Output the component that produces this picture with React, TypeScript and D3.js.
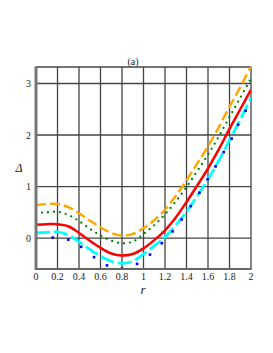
import React, { useEffect, useRef } from 'react';
import * as d3 from 'd3';

// curves sampled at r = 0, 0.1, ... 2.0
const rGrid = [0, 0.1, 0.2, 0.3, 0.4, 0.5, 0.6, 0.7, 0.8, 0.9, 1.0, 1.1, 1.2, 1.3, 1.4, 1.5, 1.6, 1.7, 1.8, 1.9, 2.0];
const redVals = [0.26, 0.27, 0.27, 0.23, 0.1, -0.05, -0.19, -0.3, -0.34, -0.31, -0.2, -0.04, 0.15, 0.4, 0.7, 1.02, 1.35, 1.72, 2.12, 2.5, 2.88];
const orangeVals = [0.64, 0.66, 0.66, 0.6, 0.48, 0.34, 0.21, 0.1, 0.05, 0.08, 0.19, 0.35, 0.55, 0.82, 1.12, 1.45, 1.78, 2.15, 2.55, 2.93, 3.34];
const greenVals = [0.49, 0.5, 0.51, 0.45, 0.33, 0.18, 0.05, -0.05, -0.1, -0.07, 0.08, 0.25, 0.46, 0.71, 0.99, 1.3, 1.62, 1.97, 2.35, 2.72, 3.1];
const cyanVals = [0.1, 0.11, 0.12, 0.06, -0.07, -0.22, -0.35, -0.45, -0.49, -0.45, -0.31, -0.15, 0.02, 0.25, 0.51, 0.82, 1.14, 1.5, 1.9, 2.3, 2.72];

// blue markers
const blueR = [0, 0.155, 0.3, 0.42, 0.54, 0.66, 0.8, 0.94, 1.06, 1.17, 1.27, 1.355, 1.44, 1.52, 1.597, 1.67, 1.746, 1.82, 1.88, 1.95];
const blueVals = [0.0, 0.01, -0.03, -0.17, -0.37, -0.53, -0.59, -0.5, -0.32, -0.1, 0.13, 0.36, 0.62, 0.88, 1.14, 1.39, 1.67, 1.93, 2.2, 2.47];

const xTicks = [0, 0.2, 0.4, 0.6, 0.8, 1, 1.2, 1.4, 1.6, 1.8, 2];
const yTicks = [0, 1, 2, 3];

export default function App() {
  const ref = useRef<SVGSVGElement>(null);

  useEffect(() => {
    const svg = d3.select(ref.current);
    svg.selectAll('*').remove();

    const x = d3.scaleLinear().domain([0, 2]).range([36, 251]);
    const y = d3.scaleLinear().domain([-0.6, 3.32]).range([269, 67]);
    const font = '"Liberation Serif", "DejaVu Serif", serif';

    svg.append('defs').append('clipPath').attr('id', 'plotClip')
      .append('rect')
      .attr('x', x(0)).attr('y', y(3.32))
      .attr('width', x(2) - x(0)).attr('height', y(-0.6) - y(3.32));

    // grid
    const grid = svg.append('g');
    xTicks.forEach(t => {
      grid.append('line')
        .attr('x1', x(t)).attr('x2', x(t))
        .attr('y1', y(3.32)).attr('y2', y(-0.6))
        .attr('stroke', '#444').attr('stroke-width', 1.3);
    });
    yTicks.forEach(t => {
      grid.append('line')
        .attr('x1', x(0)).attr('x2', x(2))
        .attr('y1', y(t)).attr('y2', y(t))
        .attr('stroke', '#444').attr('stroke-width', 1.3);
    });
    // top border
    grid.append('line')
      .attr('x1', x(0)).attr('x2', x(2))
      .attr('y1', y(3.32)).attr('y2', y(3.32))
      .attr('stroke', '#444').attr('stroke-width', 1.3);

    const plot = svg.append('g').attr('clip-path', 'url(#plotClip)');
    const line = d3.line<number>()
      .x((_, i) => x(rGrid[i]))
      .y(d => y(d))
      .curve(d3.curveCatmullRom);

    plot.append('path').datum(orangeVals).attr('d', line)
      .attr('fill', 'none').attr('stroke', '#ffa500').attr('stroke-width', 2.4)
      .attr('stroke-dasharray', '10 4');
    plot.append('path').datum(greenVals).attr('d', line)
      .attr('fill', 'none').attr('stroke', '#008000').attr('stroke-width', 2.3)
      .attr('stroke-linecap', 'round').attr('stroke-dasharray', '0 6');
    plot.append('path').datum(redVals).attr('d', line)
      .attr('fill', 'none').attr('stroke', '#ff0000').attr('stroke-width', 2.5);
    plot.append('path').datum(cyanVals).attr('d', line)
      .attr('fill', 'none').attr('stroke', '#00ffff').attr('stroke-width', 2.8)
      .attr('stroke-dasharray', '14 4');

    blueR.forEach((r, i) => {
      plot.append('rect')
        .attr('x', x(r) - 1.3).attr('y', y(blueVals[i]) - 1.3)
        .attr('width', 2.6).attr('height', 2.6)
        .attr('fill', '#0000ff');
    });

    // left and bottom frame
    svg.append('line')
      .attr('x1', x(0)).attr('x2', x(0))
      .attr('y1', y(3.32) - 0.5).attr('y2', y(-0.6) + 1)
      .attr('stroke', '#777').attr('stroke-width', 3);
    svg.append('line')
      .attr('x1', x(0)).attr('x2', x(2) + 0.6)
      .attr('y1', y(-0.6)).attr('y2', y(-0.6))
      .attr('stroke', '#666').attr('stroke-width', 2.2);

    // tick labels
    xTicks.forEach(t => {
      svg.append('text')
        .attr('x', x(t)).attr('y', 280)
        .attr('text-anchor', 'middle')
        .attr('font-family', font).attr('font-size', 10)
        .attr('fill', '#222')
        .text(String(t));
    });
    yTicks.forEach(t => {
      svg.append('text')
        .attr('x', 31).attr('y', y(t) + 3.5)
        .attr('text-anchor', 'end')
        .attr('font-family', font).attr('font-size', 10)
        .attr('fill', '#222')
        .text(String(t));
    });

    svg.append('text')
      .attr('x', 19).attr('y', 172)
      .attr('text-anchor', 'middle')
      .attr('font-family', font).attr('font-size', 12).attr('font-style', 'italic')
      .attr('fill', '#222')
      .text('Δ');
    svg.append('text')
      .attr('x', 143).attr('y', 294)
      .attr('text-anchor', 'middle')
      .attr('font-family', font).attr('font-size', 13).attr('font-style', 'italic')
      .attr('fill', '#222')
      .text('r');
    svg.append('text')
      .attr('x', 133).attr('y', 65)
      .attr('text-anchor', 'middle')
      .attr('font-family', font).attr('font-size', 10)
      .attr('fill', '#222')
      .text('(a)');
  }, []);

  return (
    <svg ref={ref} width={273} height={353}
      style={{ position: 'absolute', left: 0, top: 0, background: '#fff' }} />
  );
}
